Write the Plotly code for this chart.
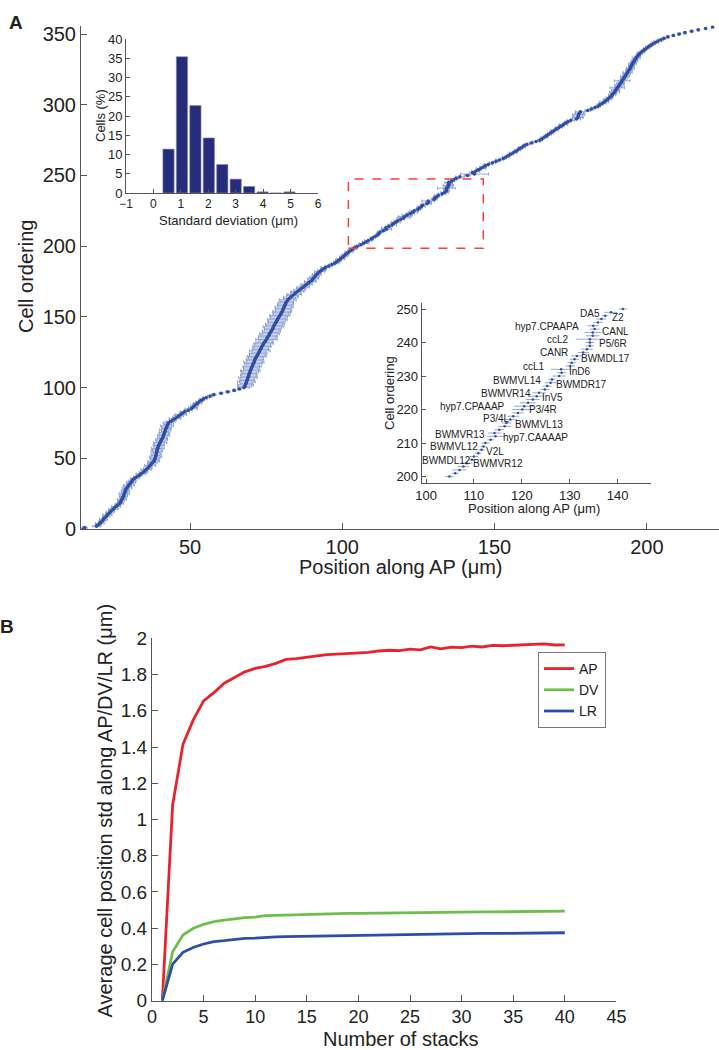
import plotly.graph_objects as go

# ---------------- Panel A: cell positions along AP ----------------
CELL_X = [
    15.0, 15.4, 19.3, 19.9, 20.4, 20.8, 21.3, 21.6, 22.0, 22.5,
    22.9, 23.3, 23.8, 24.2, 24.8, 25.2, 25.7, 26.3, 26.9, 27.1,
    27.4, 27.6, 27.9, 28.1, 28.3, 28.4, 28.6, 28.8, 28.9, 29.3,
    29.6, 29.9, 30.3, 30.6, 31.0, 31.3, 31.9, 32.6, 33.3, 33.9,
    34.6, 35.1, 35.6, 36.1, 36.5, 36.9, 37.3, 37.7, 38.1, 38.4,
    38.5, 38.7, 38.8, 38.9, 39.0, 39.1, 39.2, 39.4, 39.5, 39.7,
    39.9, 40.2, 40.4, 40.6, 40.9, 41.1, 41.3, 41.4, 41.6, 41.8,
    41.9, 42.1, 42.3, 42.5, 42.7, 42.9, 43.6, 44.3, 45.0, 45.7,
    46.3, 47.0, 47.6, 48.3, 49.4, 50.4, 50.9, 51.4, 51.9, 52.5,
    53.0, 53.7, 54.4, 55.3, 56.6, 57.8, 60.2, 62.4, 64.5, 66.2,
    67.7, 68.0, 68.2, 68.4, 68.5, 68.7, 68.9, 69.0, 69.2, 69.3,
    69.5, 69.7, 69.8, 70.0, 70.2, 70.4, 70.6, 70.8, 71.0, 71.2,
    71.3, 71.6, 71.9, 72.1, 72.4, 72.6, 72.9, 73.1, 73.4, 73.6,
    73.9, 74.1, 74.4, 74.8, 75.1, 75.3, 75.6, 75.9, 76.1, 76.4,
    76.7, 77.0, 77.2, 77.4, 77.6, 77.9, 78.2, 78.4, 78.7, 78.9,
    79.2, 79.5, 79.8, 80.1, 80.3, 80.5, 80.7, 80.9, 81.1, 81.3,
    81.5, 81.8, 82.1, 82.6, 83.1, 83.6, 84.2, 84.7, 85.3, 85.9,
    86.5, 87.1, 87.7, 88.3, 88.9, 89.5, 90.0, 90.4, 90.8, 91.2,
    91.6, 92.0, 92.6, 93.2, 93.8, 94.5, 95.5, 96.6, 97.6, 98.2,
    98.8, 99.4, 100.0, 100.5, 101.0, 101.5, 102.2, 102.8, 103.5, 104.1,
    104.9, 106.1, 107.0, 107.8, 108.5, 109.6, 110.0, 110.9, 111.6, 112.0,
    112.4, 113.5, 114.5, 114.3, 115.3, 116.4, 116.8, 117.6, 118.2, 119.2,
    120.1, 120.5, 121.3, 122.3, 123.1, 123.6, 124.8, 125.3, 126.0, 126.3,
    127.8, 128.3, 128.2, 130.1, 130.4, 131.0, 131.5, 132.8, 133.6, 134.2,
    134.2, 134.2, 134.8, 134.8, 135.2, 134.9, 135.9, 136.6, 137.4, 138.6,
    141.1, 143.4, 142.8, 143.8, 144.7, 145.5, 146.3, 147.1, 148.0, 149.3,
    150.5, 151.6, 152.9, 153.7, 154.5, 155.3, 156.1, 156.9, 157.6, 158.3,
    159.0, 159.7, 160.6, 162.1, 163.6, 164.9, 165.6, 166.3, 167.0, 167.7,
    168.4, 169.0, 169.7, 170.4, 171.2, 171.9, 172.6, 173.3, 174.1, 175.0,
    176.9, 177.3, 177.5, 177.6, 177.8, 178.2, 180.6, 181.8, 183.0, 184.0,
    184.6, 185.4, 186.0, 186.6, 187.2, 187.7, 188.2, 188.6, 189.0, 189.4,
    189.7, 190.0, 190.3, 190.7, 191.0, 191.3, 191.6, 191.9, 192.2, 192.5,
    192.8, 193.1, 193.4, 193.7, 194.0, 194.3, 194.6, 194.8, 195.0, 195.3,
    195.6, 195.9, 196.2, 196.5, 196.8, 197.2, 197.6, 198.1, 198.6, 199.3,
    199.9, 200.5, 201.2, 202.0, 202.8, 203.6, 204.6, 205.6, 206.9, 208.7,
    210.6, 212.5, 214.7, 216.9, 219.3, 221.6,
]
CELL_STD = [
    0.6, 0.8, 1.2, 1.0, 1.4, 0.9, 1.1, 1.3, 0.8, 1.2,
    1.5, 1.0, 1.3, 0.9, 1.6, 1.1, 1.4, 1.0, 1.2, 0.8,
    1.1, 1.5, 0.9, 1.3, 1.2, 1.7, 1.0, 1.4, 0.9, 1.6,
    1.2, 1.8, 1.1, 1.5, 1.3, 0.9, 1.4, 1.2, 1.0, 1.6,
    1.3, 1.1, 1.7, 1.4, 1.0, 1.8, 1.2, 1.5, 1.9, 1.3,
    1.6, 2.0, 1.4, 1.7, 1.2, 1.9, 1.5, 2.1, 1.3, 1.8,
    1.6, 2.2, 1.4, 1.9, 1.7, 1.3, 2.0, 1.5, 1.8, 1.2,
    1.9, 1.4, 1.6, 2.1, 1.3, 1.7, 1.5, 1.2, 1.8, 1.4,
    1.6, 1.9, 1.1, 1.5, 1.3, 2.0, 1.4, 1.2, 1.0, 1.3,
    1.1, 0.9, 1.2, 1.0, 0.8, 0.7, 0.6, 0.7, 0.5, 0.6,
    1.8, 2.3, 2.6, 2.0, 2.9, 2.4, 2.2, 3.1, 2.5, 2.7,
    2.3, 2.8, 3.2, 2.4, 2.6, 3.0, 2.2, 2.9, 3.3, 2.5,
    2.8, 2.4, 3.1, 2.6, 2.9, 2.3, 3.4, 2.7, 2.5, 3.0,
    2.6, 3.2, 2.8, 2.4, 3.5, 2.9, 3.1, 2.7, 3.3, 2.6,
    3.0, 2.5, 2.8, 3.4, 2.7, 3.1, 2.4, 2.9, 3.2, 2.6,
    2.8, 3.3, 2.5, 2.9, 3.1, 2.4, 2.7, 3.0, 2.3, 2.6,
    2.5, 2.2, 2.8, 2.0, 2.4, 1.9, 2.3, 1.7, 2.1, 1.8,
    1.6, 2.0, 1.5, 1.8, 1.4, 1.9, 1.3, 1.7, 1.5, 1.2,
    1.4, 1.1, 1.6, 1.3, 1.0, 1.5, 1.2, 0.9, 1.3, 1.1,
    1.0, 1.4, 0.9, 1.2, 1.1, 0.8, 1.3, 1.0, 1.2, 0.9,
    0.85, 0.7, 1.5, 1.2, 1.2, 0.7, 0.9, 0.7, 0.6, 0.6,
    0.9, 0.7, 1.7, 1.4, 1.0, 1.4, 1.0, 1.4, 1.2, 1.2,
    2.1, 2.1, 1.7, 1.4, 1.5, 1.4, 0.9, 0.9, 1.2, 0.7,
    1.4, 1.0, 2.1, 1.0, 0.9, 1.0, 1.2, 1.2, 1.2, 0.9,
    0.9, 2.9, 1.4, 1.7, 1.0, 1.2, 1.0, 1.0, 0.7, 1.4,
    0.9, 4.6, 1.0, 1.3, 0.8, 1.5, 1.1, 0.9, 1.4, 1.0,
    0.7, 1.2, 0.8, 1.1, 0.6, 0.9, 1.3, 0.7, 1.0, 0.8,
    1.1, 0.6, 0.9, 0.7, 1.2, 0.8, 0.6, 1.0, 0.7, 0.9,
    1.0, 0.8, 1.2, 0.7, 1.1, 0.9, 1.3, 0.8, 1.0, 1.2,
    1.3, 1.8, 1.5, 2.0, 1.4, 1.6, 0.9, 0.7, 1.1, 0.8,
    1.0, 1.2, 1.5, 0.9, 1.3, 1.1, 0.8, 1.2, 1.0, 1.6,
    1.3, 1.1, 2.4, 1.2, 1.5, 1.2, 1.0, 2.6, 0.9, 1.1,
    1.4, 1.0, 1.2, 1.5, 0.9, 1.1, 1.3, 0.8, 1.0, 1.2,
    0.9, 1.1, 0.8, 1.3, 1.0, 0.7, 0.9, 1.1, 0.8, 0.6,
    1.0, 0.9, 0.7, 0.8, 1.1, 1.3, 0.9, 0.6, 0.5, 0.4,
    0.5, 0.4, 0.5, 0.4, 0.3, 0.4,
]
CELL_ORDER = list(range(len(CELL_X)))

# zoomed window (red dashed box) and inset
ZOOM_X = [102.0, 146.3]
ZOOM_Y = [198.5, 247.5]
INSET_FIRST, INSET_LAST = 200, 250

# histogram of standard deviations
HIST_CENTERS = [0.55, 1.04, 1.53, 2.02, 2.51, 3.00, 3.49, 3.98, 4.47, 4.96]
HIST_PCT = [11.4, 35.4, 22.7, 14.3, 7.4, 3.6, 1.7, 0.3, 0.0, 0.3]

# inset labels
LEFT_NAMES = ["DA5", "hyp7.CPAAPA", "ccL2", "CANR", "ccL1", "BWMVL14", "BWMVR14",
              "hyp7.CPAAAP", "P3/4L", "BWMVR13", "BWMVL12", "BWMDL12"]
LEFT_X = [136.55, 132.2, 130.1, 129.9, 125.0, 124.3, 122.1, 116.6, 117.8, 112.5, 111.0, 109.5]
LEFT_Y = [248.7, 244.9, 240.8, 237.0, 232.8, 228.8, 224.9, 220.9, 217.2, 212.6, 208.9, 204.8]
RIGHT_NAMES = ["Z2", "CANL", "P5/6R", "BWMDL17", "InD6", "BWMDR17", "InV5",
               "P3/4R", "BWMVL13", "hyp7.CAAAAP", "V2L", "BWMVR12"]
RIGHT_X = [138.6, 136.6, 135.8, 132.1, 129.7, 126.9, 124.1, 121.3, 118.3, 115.9, 112.3, 109.7]
RIGHT_Y = [247.5, 243.4, 239.6, 235.3, 231.5, 227.4, 223.6, 219.9, 215.4, 211.6, 207.4, 203.8]

# ---------------- Panel B ----------------
STACKS = list(range(1, 41))
AP = [0.0, 1.08, 1.415, 1.55, 1.655, 1.70, 1.752, 1.785, 1.815, 1.834,
      1.845, 1.862, 1.884, 1.888, 1.897, 1.903, 1.910, 1.913, 1.916, 1.920,
      1.922, 1.930, 1.934, 1.932, 1.940, 1.936, 1.953, 1.942, 1.951, 1.949,
      1.957, 1.952, 1.961, 1.959, 1.961, 1.962, 1.968, 1.969, 1.963, 1.964]
DV = [0.0, 0.27, 0.362, 0.40, 0.421, 0.436, 0.445, 0.454, 0.459, 0.461,
      0.469, 0.471, 0.473, 0.474, 0.477, 0.478, 0.480, 0.481, 0.482, 0.482,
      0.483, 0.484, 0.485, 0.485, 0.486, 0.486, 0.487, 0.488, 0.488, 0.489,
      0.489, 0.490, 0.490, 0.491, 0.491, 0.492, 0.492, 0.493, 0.494, 0.494]
LR = [0.0, 0.202, 0.267, 0.294, 0.313, 0.326, 0.331, 0.339, 0.344, 0.345,
      0.350, 0.352, 0.354, 0.355, 0.357, 0.358, 0.359, 0.360, 0.361, 0.362,
      0.363, 0.364, 0.365, 0.365, 0.366, 0.367, 0.367, 0.368, 0.369, 0.370,
      0.370, 0.371, 0.371, 0.372, 0.372, 0.373, 0.373, 0.374, 0.374, 0.375]

assert len(CELL_X) == len(CELL_STD)

FONT = "Liberation Sans, Arial, Helvetica, sans-serif"
AXCOL = "#555555"
PT_COL = "#2f4ea3"
ERR_COL = "rgba(130,152,212,0.85)"

W, H = 719, 1050
def px(x):
    return x / W
def py(y):
    return 1 - y / H

fig = go.Figure()

# main scatter
fig.add_trace(go.Scatter(
    x=CELL_X, y=CELL_ORDER, mode="markers", xaxis="x", yaxis="y",
    marker=dict(size=3.6, color=PT_COL),
    error_x=dict(type="data", array=CELL_STD, color=ERR_COL, thickness=1, width=1.5),
    showlegend=False, hoverinfo="skip"))

# histogram inset
fig.add_trace(go.Bar(
    x=HIST_CENTERS, y=HIST_PCT, width=0.41, xaxis="x2", yaxis="y2",
    marker=dict(color="#262c7c", line=dict(color="#8a8a9a", width=0.6)),
    showlegend=False, hoverinfo="skip"))

# zoom inset
sl = slice(INSET_FIRST, INSET_LAST + 1)
fig.add_trace(go.Scatter(
    x=CELL_X[sl], y=CELL_ORDER[sl], mode="markers", xaxis="x3", yaxis="y3",
    marker=dict(size=2.5, color=PT_COL),
    error_x=dict(type="data", array=CELL_STD[sl], color=ERR_COL, thickness=1, width=0),
    showlegend=False, hoverinfo="skip"))

# panel B
for name, vals, col in [("AP", AP, "#e8232b"), ("DV", DV, "#6cc04a"), ("LR", LR, "#2b4ea6")]:
    fig.add_trace(go.Scatter(
        x=STACKS, y=vals, mode="lines", name=name, xaxis="x4", yaxis="y4",
        line=dict(color=col, width=2.8), hoverinfo="skip"))

def ax(**kw):
    base = dict(showgrid=False, zeroline=False, showline=True, linecolor=AXCOL,
                linewidth=1, ticks="inside", tickcolor=AXCOL, tickwidth=1,
                mirror=False, fixedrange=True, automargin=False)
    base.update(kw)
    return base

fig.update_layout(
    template="none",
    width=W, height=H, margin=dict(l=0, r=0, t=0, b=0, autoexpand=False),
    paper_bgcolor="white", plot_bgcolor="rgba(0,0,0,0)",
    font=dict(family=FONT, color="#222222"),
    xaxis=ax(domain=[px(81), 1.0], range=[14.2, 223.7], tickvals=[50, 100, 150, 200],
             ticklen=6, tickfont=dict(size=20), anchor="y"),
    yaxis=ax(domain=[py(529), py(25.6)], range=[0, 356], tickvals=[0, 50, 100, 150, 200, 250, 300, 350],
             ticklen=6, tickfont=dict(size=20), anchor="x"),
    xaxis2=ax(domain=[px(126), px(318)], range=[-1, 6], dtick=1, tick0=-1, ticklen=4,
              tickfont=dict(size=12), anchor="y2"),
    yaxis2=ax(domain=[py(193), py(39)], range=[0, 40], dtick=5, ticklen=4,
              tickfont=dict(size=13), anchor="x2"),
    xaxis3=ax(domain=[px(421.7), px(650.7)], range=[99.1, 146.9], tickvals=[100, 110, 120, 130, 140],
              ticklen=4, tickfont=dict(size=13), anchor="y3"),
    yaxis3=ax(domain=[py(483.3), py(303.3)], range=[198, 251.7], tickvals=[200, 210, 220, 230, 240, 250],
              ticklen=4, tickfont=dict(size=13), anchor="x3"),
    xaxis4=ax(domain=[px(152), px(616.4)], range=[0, 45], dtick=5, ticklen=6,
              tickfont=dict(size=18), anchor="y4"),
    yaxis4=ax(domain=[py(1000.7), py(638.3)], range=[0, 2], dtick=0.2, ticklen=6,
              tickfont=dict(size=19), anchor="x4"),
    legend=dict(x=px(538), y=py(652), xanchor="left", yanchor="top",
                bordercolor="#777777", borderwidth=1, bgcolor="white",
                font=dict(size=14, family=FONT), tracegroupgap=0, itemwidth=30),
    bargap=0,
)

# red dashed zoom box
fig.add_shape(type="rect", xref="x", yref="y", x0=ZOOM_X[0], x1=ZOOM_X[1],
              y0=ZOOM_Y[0], y1=ZOOM_Y[1], line=dict(color="#ff3b3b", width=1.5, dash="dash"))

ann = []
def text(x, y, s, size, angle=0, bold=False, xanchor="center"):
    ann.append(dict(x=x, y=y, xref="paper", yref="paper", text=("<b>%s</b>" % s) if bold else s,
                    showarrow=False, textangle=angle, xanchor=xanchor, yanchor="middle",
                    font=dict(size=size, family=FONT, color="#222222")))

text(px(16), py(23), "A", 19, bold=True)
text(px(7), py(626.5), "B", 19, bold=True)
text(px(26), py(277), "Cell ordering", 20, angle=-90)
text(px(400), py(567), "Position along AP (μm)", 20)
text(px(100), py(116), "Cells (%)", 13, angle=-90)
text(px(228), py(220), "Standard deviation (μm)", 13)
text(px(389), py(393), "Cell ordering", 13, angle=-90)
text(px(534), py(509), "Position along AP (μm)", 13)
text(px(104.5), py(811), "Average cell position std along AP/DV/LR (μm)", 20, angle=-90)
text(px(400.6), py(1039), "Number of stacks", 20)

for names, xs, ys, anchor in [(LEFT_NAMES, LEFT_X, LEFT_Y, "right"), (RIGHT_NAMES, RIGHT_X, RIGHT_Y, "left")]:
    for n, x, y in zip(names, xs, ys):
        ann.append(dict(x=x, y=y, xref="x3", yref="y3", text=n, showarrow=False,
                        xanchor=anchor, yanchor="middle", borderpad=0,
                        font=dict(size=10, family=FONT, color="#222222")))

fig.update_layout(annotations=ann)

fig.write_html("out.html", config={"displayModeBar": False, "staticPlot": True},
               post_script="document.body.style.margin='0px';document.body.style.padding='0px';")
